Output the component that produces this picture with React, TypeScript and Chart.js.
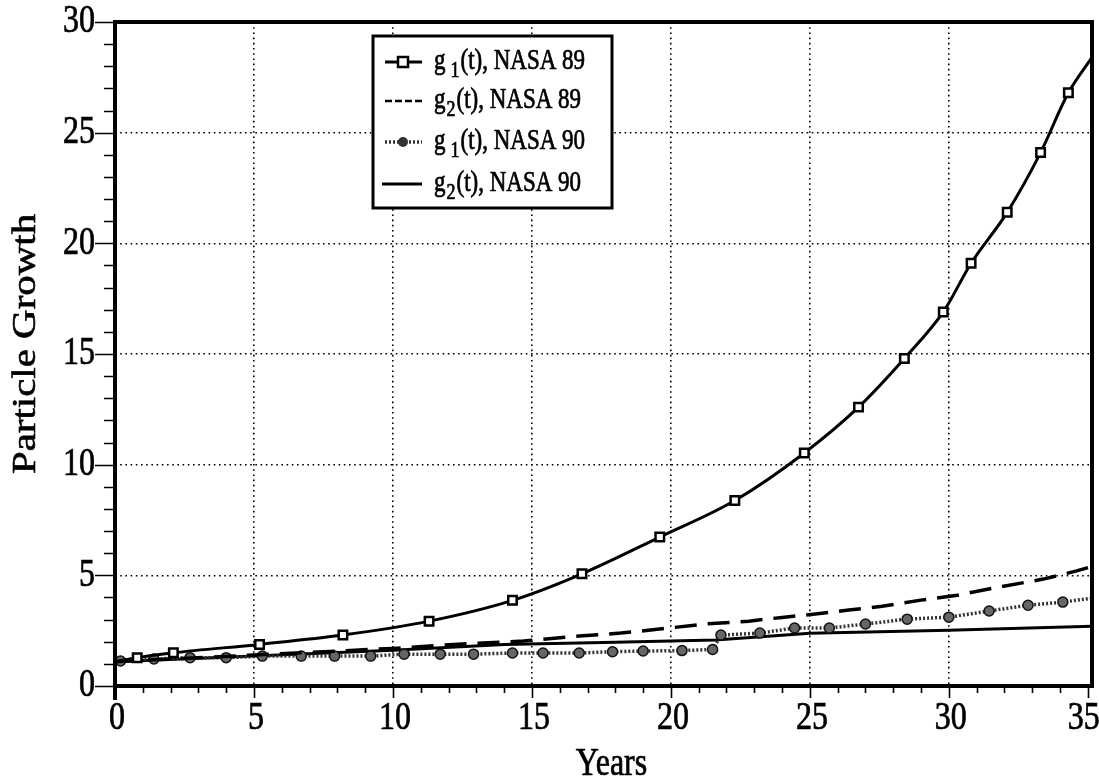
import React, { useEffect, useRef } from 'react';
import { Chart, registerables } from 'chart.js';

Chart.register(...registerables);

// ---- Data ----
const xTickValues = [0, 5, 10, 15, 20, 25, 30, 35];
const yTickValues = [0, 5, 10, 15, 20, 25, 30];

const g1Nasa89X = [0, 0.8, 2.1, 5.2, 8.2, 11.3, 14.3, 16.8, 19.6, 22.3, 24.8, 26.75, 28.4, 29.8, 30.8, 32.1, 33.3, 34.3, 35.15];
const g1Nasa89Y = [1.1, 1.28, 1.5, 1.88, 2.3, 2.93, 3.87, 5.07, 6.73, 8.38, 10.53, 12.6, 14.8, 16.9, 19.1, 21.4, 24.1, 26.8, 28.4];

const g2Nasa89X = [0, 5, 10, 12.5, 14.7, 16.7, 18.2, 19.8, 21.2, 22.8, 24.0, 25.2, 26.4, 27.6, 29.0, 30.3, 31.8, 33.4, 34.6, 35.15];
const g2Nasa89Y = [1.1, 1.4, 1.7, 1.9, 2.03, 2.26, 2.39, 2.6, 2.8, 2.93, 3.1, 3.25, 3.43, 3.6, 3.88, 4.1, 4.47, 4.83, 5.2, 5.4];

const g1Nasa90X = [0.2, 1.4, 2.7, 4.0, 5.3, 6.7, 7.9, 9.2, 10.4, 11.7, 12.9, 14.3, 15.4, 16.7, 17.9, 19.0, 20.4, 21.5, 21.8, 23.2, 24.45, 25.7, 27.0, 28.5, 30.0, 31.45, 32.85, 34.1, 35.15];
const g1Nasa90Y = [1.13, 1.22, 1.28, 1.28, 1.35, 1.35, 1.35, 1.35, 1.44, 1.44, 1.44, 1.49, 1.49, 1.49, 1.55, 1.58, 1.6, 1.65, 2.3, 2.39, 2.62, 2.62, 2.8, 3.02, 3.11, 3.39, 3.65, 3.79, 3.97];

const g2Nasa90X = [0, 5, 10, 14, 18, 21.6, 25, 30, 35.15];
const g2Nasa90Y = [1.1, 1.35, 1.62, 1.88, 1.98, 2.08, 2.38, 2.52, 2.7];

const legendBase = ['g', 'g', 'g', 'g'];
const legendSub = ['1', '2', '1', '2'];
const legendRest = ['(t), NASA 89', '(t), NASA 89', '(t), NASA 90', '(t), NASA 90'];

const xTitle = 'Years';
const yTitle = 'Particle Growth';

const FONT = '"Liberation Serif", "Times New Roman", serif';
const STRETCH = 1.24; // scanned text is taller than it is wide

const pts = (xs: number[], ys: number[]) => xs.map((x, i) => ({ x, y: ys[i] }));

function drawText(ctx: any, text: string, x: number, y: number, size: number, align: string) {
  ctx.save();
  ctx.translate(x, y);
  ctx.scale(1, STRETCH);
  ctx.font = `${size}px ${FONT}`;
  ctx.textAlign = align;
  ctx.textBaseline = 'middle';
  ctx.fillStyle = '#000';
  ctx.strokeStyle = '#000';
  ctx.lineWidth = 0.6;
  ctx.fillText(text, 0, 0);
  ctx.strokeText(text, 0, 0);
  ctx.restore();
}

const decorPlugin = {
  id: 'decor',
  afterDraw(chart: any) {
    const { ctx, chartArea } = chart;
    const xs = chart.scales.x;
    const ys = chart.scales.y;
    const { left, right, top, bottom } = chartArea;
    ctx.save();
    ctx.strokeStyle = '#000';
    // minor/major ticks
    ctx.lineWidth = 1.6;
    ctx.beginPath();
    for (let v = 0; v <= 35; v++) {
      const px = Math.round(xs.getPixelForValue(v)) + 0.5;
      const len = v % 5 === 0 ? 12 : 7;
      ctx.moveTo(px, bottom);
      ctx.lineTo(px, bottom + len);
    }
    for (let v = 0; v <= 30; v++) {
      const py = Math.round(ys.getPixelForValue(v)) + 0.5;
      const len = v % 5 === 0 ? 20 : 11;
      ctx.moveTo(left, py);
      ctx.lineTo(left - len, py);
    }
    ctx.stroke();
    // frame
    ctx.lineWidth = 4;
    ctx.strokeRect(left, top, right - left, bottom - top);
    ctx.beginPath();
    ctx.moveTo(left, bottom);
    ctx.lineTo(left, bottom + 14);
    ctx.stroke();

    // tick labels
    xTickValues.forEach((v, i) => {
      const off = i === xTickValues.length - 1 ? -4 : 2;
      drawText(ctx, String(v), xs.getPixelForValue(v) + off, bottom + 33, 32, 'center');
    });
    yTickValues.forEach((v) => {
      drawText(ctx, String(v), left - 20, ys.getPixelForValue(v), 32, 'right');
    });
    // axis titles
    drawText(ctx, xTitle, (left + right) / 2 + 8, 765, 32, 'center');
    ctx.save();
    ctx.translate(26, (top + bottom) / 2 - 10);
    ctx.rotate(-Math.PI / 2);
    ctx.scale(STRETCH, 1);
    ctx.font = `33px ${FONT}`;
    ctx.textAlign = 'center';
    ctx.textBaseline = 'middle';
    ctx.fillStyle = '#000';
    ctx.strokeStyle = '#000';
    ctx.lineWidth = 0.6;
    ctx.fillText(yTitle, 0, 0);
    ctx.strokeText(yTitle, 0, 0);
    ctx.restore();

    // legend
    const bx = 373, by = 36, bw = 239, bh = 172;
    ctx.fillStyle = '#fff';
    ctx.fillRect(bx, by, bw, bh);
    ctx.lineWidth = 3;
    ctx.strokeRect(bx, by, bw, bh);
    const rows = [62, 101, 142, 184];
    const sx0 = 385, sx1 = 422, sxm = 403;
    rows.forEach((ry, i) => {
      ctx.save();
      ctx.strokeStyle = '#000';
      if (i === 0) {
        ctx.lineWidth = 3;
        ctx.beginPath(); ctx.moveTo(sx0, ry); ctx.lineTo(sx1, ry); ctx.stroke();
        ctx.fillStyle = '#fff';
        ctx.lineWidth = 2.5;
        ctx.fillRect(sxm - 5, ry - 5, 10, 10);
        ctx.strokeRect(sxm - 5, ry - 5, 10, 10);
      } else if (i === 1) {
        ctx.lineWidth = 2.5;
        ctx.setLineDash([7, 3]);
        ctx.beginPath(); ctx.moveTo(sx0, ry); ctx.lineTo(sx1, ry); ctx.stroke();
      } else if (i === 2) {
        ctx.lineWidth = 3.5;
        ctx.strokeStyle = '#333';
        ctx.setLineDash([2, 2]);
        ctx.beginPath(); ctx.moveTo(sx0, ry); ctx.lineTo(sx1, ry); ctx.stroke();
        ctx.setLineDash([]);
        ctx.fillStyle = '#333';
        ctx.beginPath(); ctx.arc(sxm, ry, 5, 0, Math.PI * 2); ctx.fill();
      } else {
        ctx.lineWidth = 3;
        ctx.beginPath(); ctx.moveTo(sx0 - 3, ry); ctx.lineTo(sx1, ry); ctx.stroke();
      }
      ctx.restore();
      let tx = 434;
      ctx.font = `23px ${FONT}`;
      drawText(ctx, legendBase[i], tx, ry, 23, 'left');
      tx += ctx.measureText(legendBase[i]).width + (i % 2 === 0 ? 5 : 1);
      drawText(ctx, legendSub[i], tx, ry + 9, 18, 'left');
      ctx.font = `18px ${FONT}`;
      tx += ctx.measureText(legendSub[i]).width + 1;
      drawText(ctx, legendRest[i], tx, ry, 23, 'left');
    });
    ctx.restore();
  },
};

export default function App() {
  const ref = useRef<HTMLCanvasElement>(null);
  useEffect(() => {
    if (!ref.current) return;
    const chart = new Chart(ref.current, {
      type: 'line',
      data: {
        datasets: [
          {
            label: 'g1(t), NASA 89',
            data: pts(g1Nasa89X, g1Nasa89Y),
            borderColor: '#000',
            borderWidth: 3,
            pointStyle: 'rect',
            pointRadius: g1Nasa89X.map((_, i) => (i === 0 || i === g1Nasa89X.length - 1 ? 0 : 6)),
            pointBackgroundColor: '#fff',
            pointBorderColor: '#000',
            pointBorderWidth: 2.5,
            cubicInterpolationMode: 'monotone',
            order: 0,
          },
          {
            label: 'g2(t), NASA 89',
            data: pts(g2Nasa89X, g2Nasa89Y),
            borderColor: '#000',
            borderWidth: 3.5,
            borderDash: [22, 11],
            pointRadius: 0,
            tension: 0,
            order: 1,
          },
          {
            label: 'g1(t), NASA 90',
            data: pts(g1Nasa90X, g1Nasa90Y),
            borderColor: '#333',
            borderWidth: 3.5,
            borderDash: [2, 2],
            pointStyle: 'circle',
            pointRadius: g1Nasa90X.map((_, i) => (i === g1Nasa90X.length - 1 ? 0 : 5)),
            pointBackgroundColor: '#666',
            pointBorderColor: '#111',
            pointBorderWidth: 1.5,
            tension: 0,
            order: 2,
          },
          {
            label: 'g2(t), NASA 90',
            data: pts(g2Nasa90X, g2Nasa90Y),
            borderColor: '#000',
            borderWidth: 3,
            pointRadius: 0,
            tension: 0,
            order: 3,
          },
        ],
      },
      options: {
        animation: false,
        responsive: false,
        devicePixelRatio: 1,
        layout: { padding: { left: 0, right: 7, top: 22, bottom: 0 } },
        plugins: { legend: { display: false }, tooltip: { enabled: false } },
        scales: {
          x: {
            type: 'linear',
            min: 0,
            max: 35.15,
            afterBuildTicks: (s: any) => { s.ticks = xTickValues.map((v) => ({ value: v })); },
            afterFit: (s: any) => { s.height = 95; },
            ticks: { display: false },
            grid: {
              drawTicks: false,
              color: (c: any) => (c.tick && (c.tick.value === 0 || c.tick.value === 35) ? 'rgba(0,0,0,0)' : '#000'),
              lineWidth: 1.6,
            },
            border: { display: false, dash: [1.6, 3.6] },
          },
          y: {
            type: 'linear',
            min: 0,
            max: 30,
            afterBuildTicks: (s: any) => { s.ticks = yTickValues.map((v) => ({ value: v })); },
            afterFit: (s: any) => { s.width = 115; },
            ticks: { display: false },
            grid: {
              drawTicks: false,
              color: (c: any) => (c.tick && (c.tick.value === 0 || c.tick.value === 30) ? 'rgba(0,0,0,0)' : '#000'),
              lineWidth: 1.6,
            },
            border: { display: false, dash: [1.6, 3.6] },
          },
        },
      },
      plugins: [decorPlugin],
    } as any);
    return () => chart.destroy();
  }, []);
  return (
    <div style={{ position: 'fixed', left: 0, top: 0, width: 1099, height: 781, background: '#fff' }}>
      <canvas ref={ref} width={1099} height={781} style={{ display: 'block' }} />
    </div>
  );
}
